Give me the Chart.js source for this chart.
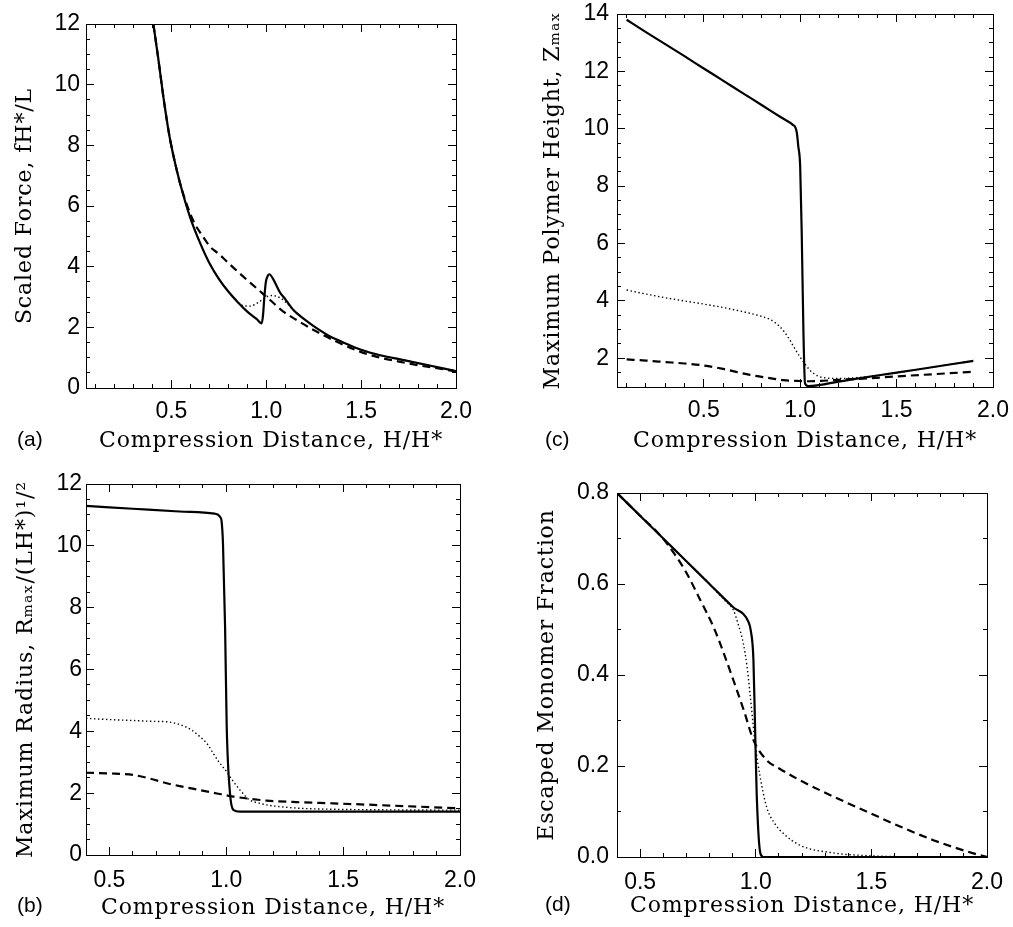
<!DOCTYPE html>
<html><head><meta charset="utf-8">
<script src="https://cdn.jsdelivr.net/npm/chart.js@4/dist/chart.umd.min.js"></script>
<style>
html,body{margin:0;padding:0;background:#fff;}
#wrap{position:relative;width:1013px;height:927px;overflow:hidden;background:#fff;}
canvas{position:absolute;}
.lbl{position:absolute;font:21px "Liberation Sans",Arial,sans-serif;color:#000;line-height:1;white-space:nowrap;}
</style></head><body>
<div id="wrap">
<canvas id="ca" width="506" height="460" style="left:0;top:0;width:506px;height:460px"></canvas>
<canvas id="cc" width="507" height="460" style="left:506px;top:0;width:507px;height:460px"></canvas>
<canvas id="cb" width="506" height="467" style="left:0;top:460px;width:506px;height:467px"></canvas>
<canvas id="cd" width="507" height="467" style="left:506px;top:460px;width:507px;height:467px"></canvas>
<div class="lbl" style="left:17px;top:428px">(a)</div>
<div class="lbl" style="left:545px;top:428px">(c)</div>
<div class="lbl" style="left:17px;top:894px">(b)</div>
<div class="lbl" style="left:545px;top:893px">(d)</div>
</div>
<script>
// ===== Panel (a): scaled force =====
const aSolidX = [0.405,0.43,0.46,0.49,0.52,0.55,0.60,0.65,0.70,0.75,0.80,0.85,0.90,0.95,0.976,0.983,0.99,0.998,1.008,1.016,1.04,1.072,1.10,1.143,1.20,1.25,1.336,1.40,1.50,1.60,1.70,1.757,1.80,1.90,2.00];
const aSolidY = [12.0,10.9,9.5,8.3,7.4,6.65,5.6,4.8,4.12,3.6,3.18,2.83,2.52,2.27,2.13,2.4,3.0,3.5,3.7,3.75,3.55,3.15,2.93,2.57,2.27,2.04,1.70,1.52,1.26,1.08,0.95,0.88,0.82,0.69,0.56];
const aDashX = [0.405,0.43,0.46,0.49,0.52,0.55,0.59,0.62,0.66,0.704,0.75,0.792,0.835,0.879,0.949,1.02,1.09,1.16,1.265,1.37,1.494,1.60,1.70,1.80,1.90,2.00];
const aDashY = [12.0,10.9,9.5,8.3,7.4,6.65,5.9,5.45,5.05,4.66,4.42,4.17,3.92,3.67,3.29,2.90,2.52,2.24,1.86,1.53,1.20,1.0,0.87,0.75,0.65,0.55];
const aDotX = [0.405,0.43,0.46,0.49,0.52,0.55,0.60,0.65,0.70,0.75,0.80,0.84,0.87,0.915,0.96,1.0,1.03,1.06,1.09,1.12,1.143,1.20,1.25,1.336,1.40,1.50,1.60,1.70,1.757,1.80,1.90,2.00];
const aDotY = [12.0,10.9,9.5,8.3,7.4,6.65,5.6,4.8,4.12,3.6,3.18,2.9,2.73,2.70,2.83,3.0,3.05,3.01,2.9,2.72,2.57,2.27,2.04,1.70,1.52,1.26,1.08,0.95,0.88,0.82,0.69,0.56];
const aYTicks = [0,2,4,6,8,10,12];
const aYLabels = ['0','2','4','6','8','10','12'];

// ===== Panel (c): maximum polymer height =====
const cSolidX = [0.10,0.2,0.3,0.4,0.5,0.6,0.7,0.8,0.9,0.964,0.975,0.983,0.99,1.0,1.008,1.017,1.025,1.042,1.2,1.4,1.6,1.8,1.898];
const cSolidY = [13.8,13.37,12.95,12.53,12.1,11.68,11.25,10.83,10.4,10.13,10.05,9.85,9.4,8.68,6.36,2.87,1.13,1.03,1.19,1.4,1.6,1.81,1.91];
const cDotX = [0.10,0.2,0.3,0.4,0.5,0.6,0.7,0.8,0.85,0.895,0.92,0.946,0.97,0.998,1.025,1.05,1.075,1.10,1.14,1.17,1.22,1.28,1.35,1.4,1.6,1.8,1.898];
const cDotY = [4.38,4.24,4.11,4.0,3.89,3.77,3.63,3.46,3.33,3.10,2.9,2.64,2.36,2.06,1.8,1.59,1.45,1.36,1.31,1.30,1.30,1.32,1.36,1.4,1.6,1.81,1.91];
const cDashX = [0.10,0.2,0.3,0.4,0.48,0.6,0.74,0.85,0.913,1.0,1.05,1.1,1.2,1.346,1.5,1.7,1.898];
const cDashY = [1.96,1.92,1.87,1.82,1.77,1.63,1.42,1.3,1.24,1.21,1.2,1.21,1.25,1.30,1.37,1.45,1.53];
const cYTicks = [2,4,6,8,10,12,14];
const cYLabels = ['2','4','6','8','10','12','14'];

// ===== Panel (b): maximum radius =====
const bSolidX = [0.4,0.6,0.8,0.95,0.966,0.975,0.98,0.986,0.995,1.002,1.016,1.03,1.059,1.3,1.6,2.0];
const bSolidY = [11.29,11.2,11.11,11.04,11.0,10.92,10.8,10.08,7.38,4.15,2.0,1.46,1.40,1.40,1.40,1.40];
const bDotX = [0.4,0.5,0.6,0.7,0.745,0.8,0.85,0.887,0.92,0.944,0.97,1.002,1.03,1.059,1.08,1.1,1.14,1.173,1.25,1.316,1.45,1.7,2.0];
const bDotY = [4.42,4.38,4.35,4.32,4.31,4.22,4.05,3.83,3.58,3.29,3.0,2.69,2.38,2.10,1.92,1.78,1.68,1.62,1.55,1.51,1.48,1.46,1.45];
const bDashX = [0.4,0.5,0.602,0.68,0.745,0.82,0.887,0.96,1.03,1.1,1.173,1.3,1.459,1.7,2.0];
const bDashY = [2.66,2.64,2.59,2.46,2.32,2.2,2.10,1.99,1.89,1.82,1.76,1.71,1.67,1.6,1.51];
const bYTicks = [0,2,4,6,8,10,12];
const bYLabels = ['0','2','4','6','8','10','12'];

// ===== Panel (d): escaped monomer fraction =====
const dSolidX = [0.4,0.5,0.6,0.7,0.8,0.9,0.968,0.978,0.99,0.997,1.004,1.02,1.033,1.5,2.0];
const dSolidY = [0.80,0.75,0.70,0.65,0.60,0.55,0.517,0.499,0.433,0.286,0.14,0.008,0.0,0.0,0.0];
const dDashX = [0.4,0.5,0.587,0.65,0.702,0.76,0.817,0.86,0.903,0.95,0.99,1.047,1.1,1.19,1.335,1.479,1.624,1.768,1.941,2.0];
const dDashY = [0.80,0.75,0.707,0.665,0.623,0.565,0.506,0.45,0.389,0.32,0.257,0.213,0.195,0.169,0.133,0.10,0.067,0.037,0.008,0.0];
const dDotX = [0.4,0.5,0.6,0.7,0.8,0.838,0.87,0.903,0.925,0.946,0.962,0.975,0.987,0.997,1.019,1.047,1.08,1.119,1.19,1.335,1.48,1.6,2.0];
const dDotY = [0.80,0.75,0.70,0.65,0.60,0.579,0.562,0.543,0.51,0.47,0.42,0.36,0.30,0.25,0.176,0.11,0.075,0.052,0.026,0.009,0.003,0.001,0.0];
const dYTicks = [0,0.2,0.4,0.6,0.8];
const dYLabels = ['0.0','0.2','0.4','0.6','0.8'];

// shared x ticks
const xTicks = [0.5,1.0,1.5,2.0];
const xLabels = ['0.5','1.0','1.5','2.0'];
const xTitle = 'Compression Distance, H/H*';

function minorTicks(min, max, step){
  const out=[];
  const start=Math.ceil(min/step-1e-9);
  for(let k=start;k*step<=max+1e-9;k++){ out.push(+(k*step).toFixed(4)); }
  return out;
}
function pts(xs, ys){ return xs.map((x,i)=>({x:x, y:ys[i]})); }

function patchCtx(ctx){
  const f = ctx.fillText.bind(ctx);
  ctx.fillText = function(t,x,y,m){
    this.letterSpacing = (this.font.indexOf('Serif')>=0) ? '0.9px' : '0px';
    return (m===undefined) ? f(t,x,y) : f(t,x,y,m);
  };
}

function build(id, P){
  const canvas = document.getElementById(id);
  const ctx = canvas.getContext('2d');
  patchCtx(ctx);
  const tickFont = {family:'"Liberation Sans", Arial, sans-serif', size:23};
  const titleFont = {family:'"DejaVu Serif", serif', size:22, lineHeight:1.2};
  const setT = vals => s => { s.ticks = vals.map(v=>({value:v})); };
  const major = {drawOnChartArea:false, drawTicks:true, tickLength:-8, color:'#000', tickColor:'#000', lineWidth:1, tickWidth:1};
  const minor = {drawOnChartArea:false, drawTicks:true, tickLength:-4, color:'#000', tickColor:'#000', lineWidth:1, tickWidth:1};
  const border = {display:true, color:'#000', width:1};
  const xMin = minorTicks(P.xmin, P.xmax, 0.1);
  const yMin = minorTicks(P.ymin, P.ymax, P.ystepMinor);
  const hid = {display:false};
  const fitH = h => s => { s.height=h; s.paddingLeft=0; s.paddingRight=0; s.paddingTop=0; s.paddingBottom=0; };
  const fitW = w => s => { s.width=w; s.paddingLeft=0; s.paddingRight=0; s.paddingTop=0; s.paddingBottom=0; };
  const scales = {
    x:  {type:'linear', axis:'x', position:'bottom', weight:1, min:P.xmin, max:P.xmax, afterBuildTicks:setT(xTicks),
         ticks:{callback:(v,i)=>xLabels[i], font:tickFont, color:'#000', padding:P.xPad, maxRotation:0, minRotation:0, autoSkip:false},
         grid:major, border:border,
         title:{display:true, text:xTitle, font:titleFont, color:'#000', padding:{top:0,bottom:P.xTitlePad}},
         afterFit:fitH(P.B)},
    xm: {type:'linear', axis:'x', position:'bottom', weight:0, min:P.xmin, max:P.xmax, afterBuildTicks:setT(xMin),
         ticks:hid, grid:minor, border:{display:false}, afterFit:fitH(0)},
    xt: {type:'linear', axis:'x', position:'top', weight:1, min:P.xmin, max:P.xmax, afterBuildTicks:setT(xTicks),
         ticks:hid, grid:major, border:border, afterFit:fitH(P.T)},
    xtm:{type:'linear', axis:'x', position:'top', weight:0, min:P.xmin, max:P.xmax, afterBuildTicks:setT(xMin),
         ticks:hid, grid:minor, border:{display:false}, afterFit:fitH(0)},
    y:  {type:'linear', axis:'y', position:'left', weight:1, min:P.ymin, max:P.ymax, afterBuildTicks:setT(P.yTicks),
         ticks:{callback:(v,i)=>P.yLabels[i], font:tickFont, color:'#000', padding:P.yPad, autoSkip:false},
         grid:major, border:border,
         title:{display:true, text:P.yTitle, font:titleFont, color:'#000', padding:{top:P.yTitlePad,bottom:0}},
         afterFit:fitW(P.L)},
    ym: {type:'linear', axis:'y', position:'left', weight:0, min:P.ymin, max:P.ymax, afterBuildTicks:setT(yMin),
         ticks:hid, grid:minor, border:{display:false}, afterFit:fitW(0)},
    yr: {type:'linear', axis:'y', position:'right', weight:1, min:P.ymin, max:P.ymax, afterBuildTicks:setT(P.yTicks),
         ticks:hid, grid:major, border:border, afterFit:fitW(P.R)},
    yrm:{type:'linear', axis:'y', position:'right', weight:0, min:P.ymin, max:P.ymax, afterBuildTicks:setT(yMin),
         ticks:hid, grid:minor, border:{display:false}, afterFit:fitW(0)}
  };
  const ds = (data, style) => Object.assign({data:data, xAxisID:'x', yAxisID:'y', borderColor:'#000', backgroundColor:'#000',
      pointRadius:0, fill:false, cubicInterpolationMode:'monotone', borderJoinStyle:'round'}, style);
  const datasets = [
    ds(P.dot,  {borderWidth:1.4, borderDash:[1.4,2.6], borderCapStyle:'butt'}),
    ds(P.dash, {borderWidth:2.2, borderDash:[8,5]}),
    ds(P.solid,{borderWidth:2.2})
  ];
  return new Chart(ctx, {
    type:'line',
    data:{datasets:datasets},
    options:{responsive:false, animation:false, devicePixelRatio:1, events:[],
      layout:{padding:0, autoPadding:false},
      plugins:{legend:{display:false}, tooltip:{enabled:false}, title:{display:false}},
      scales:scales}
  });
}

build('ca', {xmin:0.05, xmax:2.0, ymin:0, ymax:12, ystepMinor:0.5, yTicks:aYTicks, yLabels:aYLabels,
  yTitle:'Scaled Force, fH*/L', L:86, R:50, T:24, B:72, xPad:18, yPad:14, xTitlePad:6, yTitlePad:12,
  solid:pts(aSolidX,aSolidY), dash:pts(aDashX,aDashY), dot:pts(aDotX,aDotY)});
build('cc', {xmin:0.05, xmax:2.0, ymin:1, ymax:14, ystepMinor:0.5, yTicks:cYTicks, yLabels:cYLabels,
  yTitle:'Maximum Polymer Height, Zₘₐₓ', L:111, R:20, T:14, B:73, xPad:18, yPad:16, xTitlePad:6, yTitlePad:34,
  solid:pts(cSolidX,cSolidY), dash:pts(cDashX,cDashY), dot:pts(cDotX,cDotY)});
build('cb', {xmin:0.4, xmax:2.0, ymin:0, ymax:12, ystepMinor:0.5, yTicks:bYTicks, yLabels:bYLabels,
  yTitle:'Maximum Radius, Rₘₐₓ/(LH*)¹/²', L:86, R:46, T:24, B:72, xPad:20, yPad:12, xTitlePad:6, yTitlePad:13,
  solid:pts(bSolidX,bSolidY), dash:pts(bDashX,bDashY), dot:pts(bDotX,bDotY)});
build('cd', {xmin:0.4, xmax:2.0, ymin:0, ymax:0.8, ystepMinor:0.1, yTicks:dYTicks, yLabels:dYLabels,
  yTitle:'Escaped Monomer Fraction', L:111, R:26, T:33, B:70, xPad:20, yPad:16, xTitlePad:8, yTitlePad:28,
  solid:pts(dSolidX,dSolidY), dash:pts(dDashX,dDashY), dot:pts(dDotX,dDotY)});
</script>
</body></html>
